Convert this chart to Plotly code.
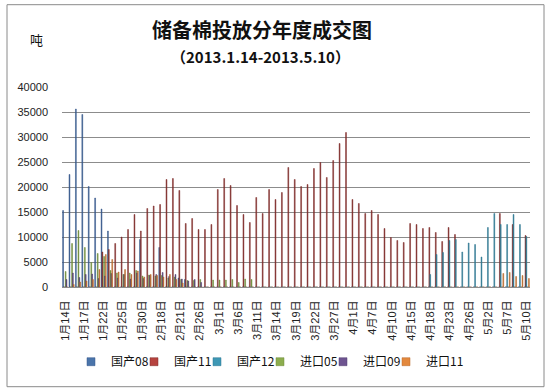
import plotly.graph_objects as go

dates = [
    "1月14日", "1月15日", "1月16日", "1月17日", "1月18日", "1月21日", "1月22日", "1月23日", "1月24日", "1月25日",
    "1月28日", "1月29日", "1月30日", "1月31日", "2月1日", "2月18日", "2月19日", "2月20日", "2月21日", "2月22日",
    "2月25日", "2月26日", "2月27日", "2月28日", "3月1日", "3月4日", "3月5日", "3月6日", "3月7日", "3月8日",
    "3月11日", "3月12日", "3月13日", "3月14日", "3月15日", "3月18日", "3月19日", "3月20日", "3月21日", "3月22日",
    "3月25日", "3月26日", "3月27日", "3月28日", "3月29日", "4月1日", "4月2日", "4月3日", "4月7日", "4月8日",
    "4月9日", "4月10日", "4月11日", "4月12日", "4月15日", "4月16日", "4月17日", "4月18日", "4月19日", "4月22日",
    "4月23日", "4月24日", "4月25日", "4月26日", "4月27日", "4月28日", "5月2日", "5月3日", "5月6日", "5月7日",
    "5月8日", "5月9日", "5月10日",
]

tick_labels = [
    "1月14日", "1月17日", "1月22日", "1月25日", "1月30日", "2月18日", "2月21日", "2月26日", "3月1日",
    "3月6日", "3月11日", "3月14日", "3月19日", "3月22日", "3月27日", "4月1日", "4月7日", "4月10日",
    "4月15日", "4月18日", "4月23日", "4月26日", "5月2日", "5月7日", "5月10日",
]

guochan08 = [
    15300, 22500, 35600, 34500, 20100, 17800, 15600, 11200, 0, 0,
    0, 0, 9500, 0, 0, 7900, 0, 0, 1800, 1500,
    0, 0, 0, 0, 0, 0, 0, 0, 0, 0,
    0, 0, 0, 0, 0, 0, 0, 0, 0, 0,
    0, 0, 0, 0, 0, 0, 0, 0, 0, 0,
    0, 0, 0, 0, 0, 0, 0, 0, 0, 0,
    0, 0, 0, 0, 0, 0, 0, 0, 0, 0,
    0, 0, 0,
]

guochan11 = [
    0, 0, 0, 0, 0, 0, 7000, 7500, 8700, 10000,
    11500, 14500, 11200, 15700, 16200, 16500, 21500, 21700, 19300, 12700,
    13700, 11500, 11500, 12500, 19500, 21700, 20300, 16300, 14500, 12900,
    17900, 14700, 19500, 17500, 18900, 23900, 21500, 20100, 20500, 23700,
    24900, 21900, 25300, 28700, 30900, 17500, 16700, 14700, 15300, 14500,
    11700, 9900, 9300, 8900, 12700, 12500, 11700, 11900, 10900, 9100,
    11900, 10500, 0, 0, 0, 0, 0, 0, 14700, 0,
    12500, 0, 10300,
]

guochan12 = [
    0, 0, 0, 0, 0, 0, 0, 0, 0, 0,
    0, 0, 0, 0, 0, 0, 0, 0, 0, 0,
    0, 0, 0, 0, 0, 0, 0, 0, 0, 0,
    0, 0, 0, 0, 0, 0, 0, 0, 0, 0,
    0, 0, 0, 0, 0, 0, 0, 0, 0, 0,
    0, 0, 0, 0, 0, 0, 0, 2500, 6500, 6900,
    9300, 9500, 7000, 8800, 8500, 6000, 11900, 14700, 12500, 12500,
    14500, 12500, 10100,
]

jinkou05 = [
    3100, 8700, 11300, 7900, 4900, 6700, 6100, 3300, 2800, 2500,
    2800, 3300, 2200, 2400, 2200, 2300, 1800, 2000, 1500, 1300,
    1300, 1500, 0, 1400, 1400, 1400, 1500, 900, 1600, 1500,
    0, 0, 0, 0, 0, 0, 0, 0, 0, 0,
    0, 0, 0, 0, 0, 0, 0, 0, 0, 0,
    0, 0, 0, 0, 0, 0, 0, 0, 0, 0,
    0, 0, 0, 0, 0, 0, 0, 0, 0, 0,
    0, 0, 0,
]

jinkou09 = [
    1500, 2800, 1900, 2500, 2600, 1700, 2200, 2700, 1800, 2500,
    1600, 2800, 1700, 2300, 2500, 2900, 2100, 2500, 1600, 1200,
    1500, 900, 0, 0, 0, 0, 0, 0, 0, 0,
    0, 0, 0, 0, 0, 0, 0, 0, 0, 0,
    0, 0, 0, 0, 0, 0, 0, 0, 0, 0,
    0, 0, 0, 0, 0, 0, 0, 0, 0, 0,
    0, 0, 0, 0, 0, 0, 0, 0, 0, 0,
    0, 0, 0,
]

jinkou11 = [
    0, 500, 1000, 1200, 1500, 3500, 6500, 5500, 3000, 3500,
    2500, 3200, 2000, 2500, 2300, 2000, 2500, 1500, 800, 0,
    0, 0, 0, 0, 0, 0, 0, 0, 0, 0,
    0, 0, 0, 0, 0, 0, 0, 0, 0, 0,
    0, 0, 0, 0, 0, 0, 0, 0, 0, 0,
    0, 0, 0, 0, 0, 0, 0, 0, 0, 0,
    0, 0, 0, 0, 0, 0, 0, 0, 2700, 2900,
    2100, 2300, 1700,
]

# name, values, legend colour, bar colour
series = [
    ("国产08", guochan08, "#4A74AA", "#34578A"),
    ("国产11", guochan11, "#B6433F", "#7E2B29"),
    ("国产12", guochan12, "#3E98B5", "#2C7690"),
    ("进口05", jinkou05, "#8CAD4E", "#6D8A38"),
    ("进口09", jinkou09, "#6E5490", "#523E70"),
    ("进口11", jinkou11, "#E3883D", "#B8692A"),
]

FONT = "Liberation Sans, Noto Sans CJK SC, sans-serif"
CJK = "Noto Sans CJK SC, sans-serif"

fig = go.Figure()
for name, vals, legc, barc in series:
    fig.add_trace(go.Bar(
        x=dates, y=vals, name=name, showlegend=False,
        marker=dict(color=barc, line=dict(color=barc, width=0.5)),
    ))
for i, (name, vals, legc, barc) in enumerate(series):
    fig.add_trace(go.Scatter(
        x=[None], y=[None], mode="markers", name=name, showlegend=True,
        marker=dict(symbol="square", size=8, color=legc, line=dict(color=barc, width=0.5)),
        legendwidth=(45 if i == len(series) - 1 else 18),
    ))

# plot area in page px: x 62..530, y 87.3..287.3
def px(x):
    return (x - 62) / 468.0

def py(y):
    return (287.3 - y) / 200.0

fig.update_layout(
    width=550, height=392,
    margin=dict(l=62, r=20, t=87, b=105, pad=0),
    paper_bgcolor="white", plot_bgcolor="white",
    barmode="group", bargap=0.2, bargroupgap=0,
    font=dict(family=FONT, size=11, color="#222222"),
    showlegend=True,
    legend=dict(
        orientation="h", x=px(71), xanchor="left", y=py(362), yanchor="middle",
        font=dict(family=CJK, size=12, color="#111111"),
        itemwidth=30, traceorder="normal",
        bgcolor="rgba(0,0,0,0)",
    ),
    xaxis=dict(
        type="category", categoryorder="array", categoryarray=dates,
        tickmode="array", tickvals=tick_labels, ticktext=tick_labels,
        tickangle=-90, ticks="", showgrid=False,
        showline=True, linecolor="#8C8C8C", linewidth=1,
        tickfont=dict(family=FONT, size=11, color="#222222"),
        ticklabelstandoff=8,
    ),
    yaxis=dict(
        range=[0, 40000], dtick=5000, tick0=0, tickformat="d",
        showgrid=True, gridcolor="#8C8C8C", gridwidth=1,
        zeroline=False, showline=False, ticks="",
        tickfont=dict(family=FONT, size=11, color="#222222"),
        ticklabelstandoff=13,
    ),
    annotations=[
        dict(text="<b>储备棉投放分年度成交图</b>", x=px(262), y=py(30), xref="paper", yref="paper",
             showarrow=False, xanchor="center", yanchor="middle",
             font=dict(family=CJK, size=20, color="#111111")),
        dict(text="<b>（2013.1.14-2013.5.10）</b>", x=px(260), y=py(57), xref="paper", yref="paper",
             showarrow=False, xanchor="center", yanchor="middle",
             font=dict(family=CJK, size=15, color="#111111")),
        dict(text="吨", x=px(36), y=py(40), xref="paper", yref="paper",
             showarrow=False, xanchor="center", yanchor="middle",
             font=dict(family=CJK, size=13, color="#111111")),
    ],
    shapes=[
        dict(type="rect", xref="paper", yref="paper",
             x0=px(7), x1=px(544), y0=py(387), y1=py(5),
             line=dict(color="#8A8A8A", width=1), fillcolor="rgba(0,0,0,0)", layer="below"),
    ],
)

fig.write_html("out.html", config={"displayModeBar": False},
               post_script="document.body.style.margin='0';")
